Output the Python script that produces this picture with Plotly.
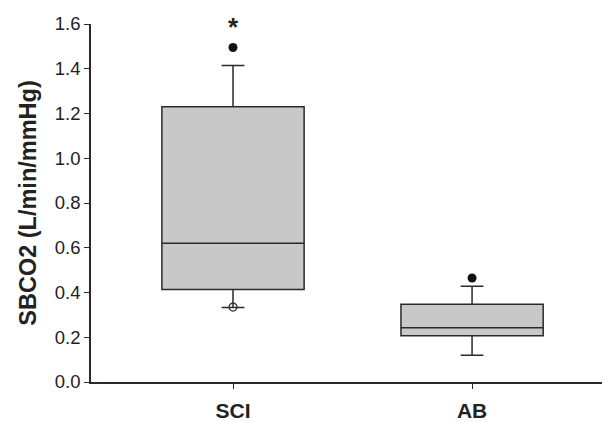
import plotly.graph_objects as go

groups = ["SCI", "AB"]
q1 = [0.413, 0.207]
median = [0.62, 0.243]
q3 = [1.23, 0.347]
lower_whisker = [0.333, 0.119]
upper_whisker = [1.415, 0.428]
outliers_high = [1.495, 0.465]
outliers_low_open = [0.335]
y_ticks = [0.0, 0.2, 0.4, 0.6, 0.8, 1.0, 1.2, 1.4, 1.6]

xpos = list(range(len(groups)))
line_c = "#2a2a2a"

fig = go.Figure()
fig.add_trace(go.Box(
    x=xpos, q1=q1, median=median, q3=q3,
    lowerfence=lower_whisker, upperfence=upper_whisker,
    fillcolor="#c8c8c8", line=dict(color=line_c, width=1.5),
    whiskerwidth=0.16, width=0.595, boxpoints=False, showlegend=False,
    hoverinfo="skip"))
fig.add_trace(go.Scatter(
    x=xpos, y=outliers_high, mode="markers",
    marker=dict(color="#111111", size=9), showlegend=False, cliponaxis=False))
fig.add_trace(go.Scatter(
    x=[0], y=outliers_low_open, mode="markers",
    marker=dict(color="rgba(0,0,0,0)", size=8, line=dict(color=line_c, width=1.2)),
    showlegend=False, cliponaxis=False))

fig.add_annotation(x=0, y=1.6, xref="x", yref="y", text="<b>*</b>", showarrow=False,
                   font=dict(size=26, color="#222222", family="Liberation Sans"),
                   yanchor="middle", yshift=-3)

fig.update_layout(
    width=602, height=414,
    margin=dict(l=83, r=0, t=16, b=34),
    plot_bgcolor="white", paper_bgcolor="white",
    font=dict(family="Liberation Sans, Arial, sans-serif", color="#222222", size=18),
)
fig.update_xaxes(
    range=[-0.594, 1.577], tickvals=xpos,
    ticktext=["<b>%s</b>" % g for g in groups],
    showline=True, linecolor=line_c, linewidth=1.5,
    ticks="outside", ticklen=5, tickcolor=line_c, tickwidth=1.2,
    showgrid=False, zeroline=False, tickfont=dict(size=21),
    ticklabelstandoff=4,
)
fig.update_yaxes(
    range=[0, 1.6], tickvals=y_ticks, ticktext=["%.1f" % v for v in y_ticks],
    showline=True, linecolor=line_c, linewidth=1.5,
    ticks="outside", ticklen=5, tickcolor=line_c, tickwidth=1.2,
    showgrid=False, zeroline=False, tickfont=dict(size=18.5),
    title=dict(text="<b>SBCO2 (L/min/mmHg)</b>", font=dict(size=23.5), standoff=12),
)

fig.write_html("out.html")
